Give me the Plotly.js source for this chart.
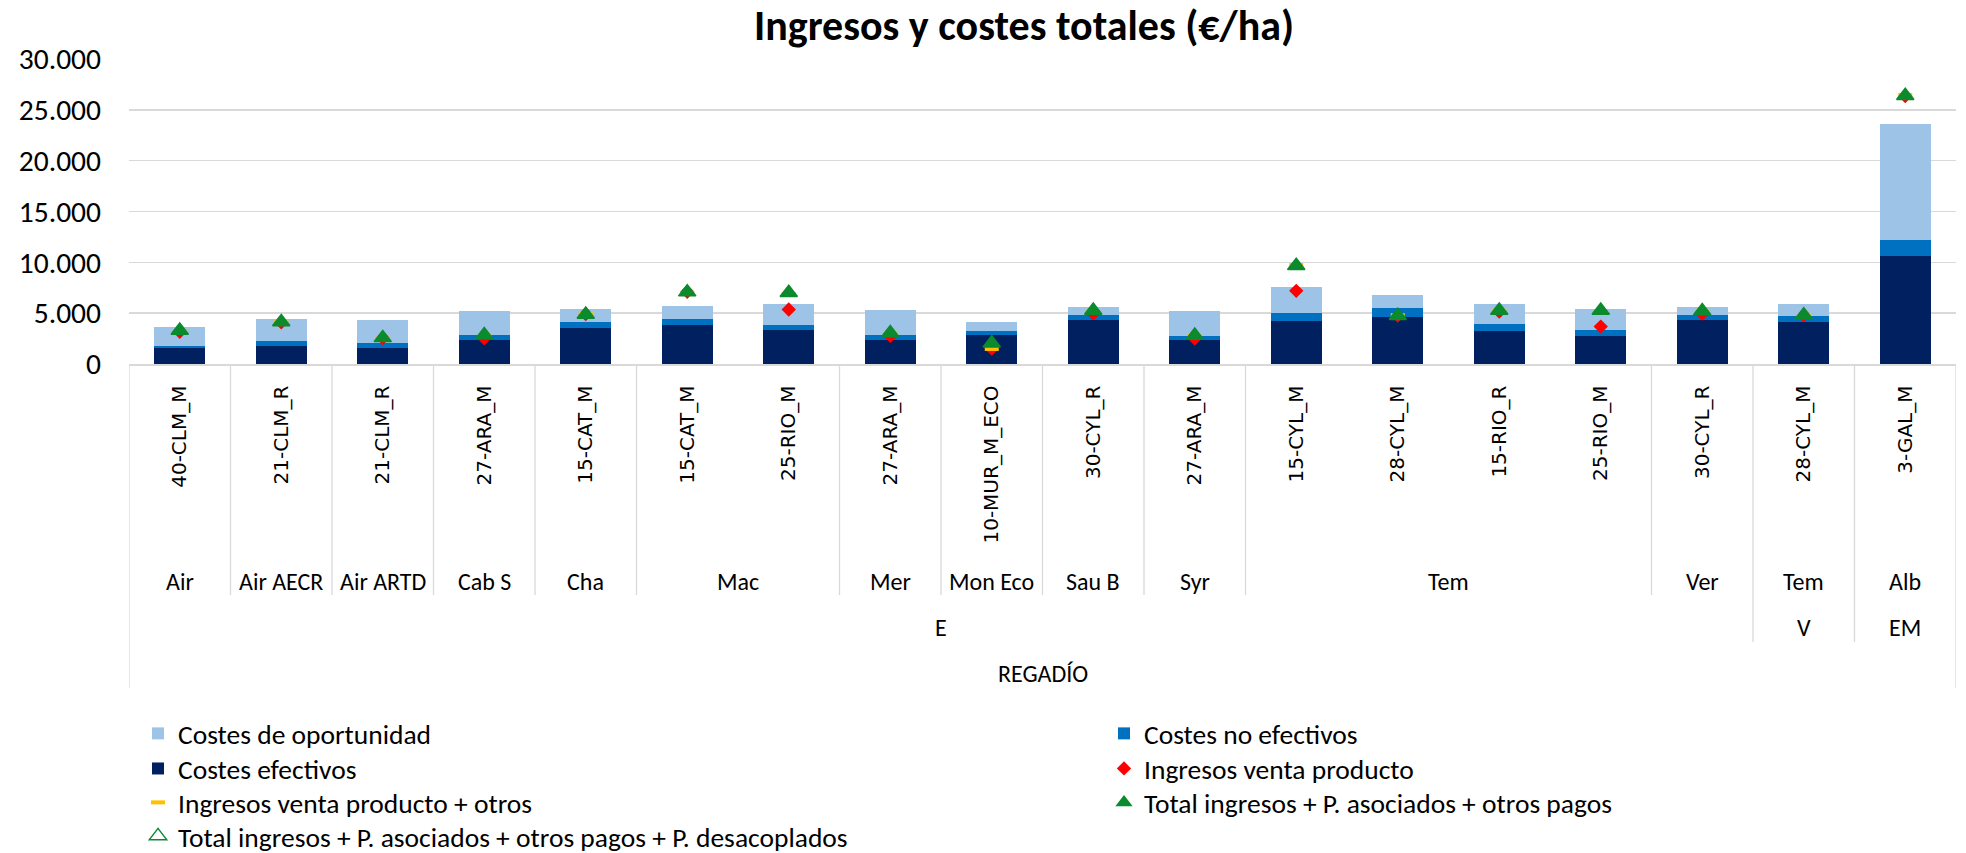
<!DOCTYPE html>
<html>
<head>
<meta charset="utf-8">
<script src="https://cdn.plot.ly/plotly-3.0.1.min.js"></script>
<style>
  html, body { margin: 0; padding: 0; background: #ffffff; }
  #chart { width: 1966px; height: 853px; }
</style>
</head>
<body>
<div id="chart"></div>
<script>
// ---------------- DATA ----------------
const codes = ['40-CLM_M','21-CLM_R','21-CLM_R','27-ARA_M','15-CAT_M','15-CAT_M','25-RIO_M','27-ARA_M','10-MUR_M_ECO','30-CYL_R','27-ARA_M','15-CYL_M','28-CYL_M','15-RIO_R','25-RIO_M','30-CYL_R','28-CYL_M','3-GAL_M'];
const groups = ['Air','Air AECR','Air ARTD','Cab S','Cha','Mac','Mac','Mer','Mon Eco','Sau B','Syr','Tem','Tem','Tem','Tem','Ver','Tem','Alb'];
const segments = ['E','E','E','E','E','E','E','E','E','E','E','E','E','E','E','E','V','EM'];
const systems = ['REGADÍO','REGADÍO','REGADÍO','REGADÍO','REGADÍO','REGADÍO','REGADÍO','REGADÍO','REGADÍO','REGADÍO','REGADÍO','REGADÍO','REGADÍO','REGADÍO','REGADÍO','REGADÍO','REGADÍO','REGADÍO'];

const costesEfectivos   = [1610, 1740, 1580, 2370, 3550, 3850, 3360, 2370, 2830, 4340, 2370, 4240, 4640, 3260, 2760, 4360, 4130, 10660];
const costesNoEfectivos = [ 150,  530,  460,  460,  560,  560,  490,  490,  390,  500,  430,  730,  820,  650,  560,  500,  560,  1510];
const costesOportunidad = [1860, 2200, 2240, 2370, 1280, 1280, 2100, 2440,  960,  750, 2400, 2630, 1280, 2040, 2070,  720, 1220, 11480];

const ingresosVenta       = [3160, 4100, 2550, 2530, 4900, 7100, 5360, 2760, 1510, 4970, 2500, 7200, 4750, 5150, 3680, 4950, 4800, 26350];
const ingresosVentaOtros  = [3220, 4140, 2500, 2760, 4930, 7000, 6900, 3060, 1480, 5200, 2800, 9740, 4800, 5260, 5130, 5220, 4790, 26450];
const totalIngresos       = [3290, 4140, 2570, 2860, 4870, 7070, 7000, 3060, 2040, 5260, 2800, 9670, 4740, 5260, 5260, 5220, 4790, 26380];
const totalDesacoplados   = [3290, 4140, 2570, 2860, 4870, 7070, 7000, 3060, 2040, 5260, 2800, 9670, 4740, 5260, 5260, 5220, 4790, 26380];

const seriesNames = {
  oport: 'Costes de oportunidad',
  noef: 'Costes no efectivos',
  ef: 'Costes efectivos',
  venta: 'Ingresos venta producto',
  otros: 'Ingresos venta producto + otros',
  total: 'Total ingresos + P. asociados + otros pagos',
  desac: 'Total ingresos + P. asociados + otros pagos + P. desacoplados'
};
const titleText = 'Ingresos y costes totales (€/ha)';

// ---------------- STYLE / LAYOUT CONSTANTS ----------------
const W = 1966, H = 853;
const PL = 129, PR = 1956, PT = 59, PB = 364;
const PH = PB - PT;
const CAL = 'Carlito, Lato, "Open Sans", sans-serif';
const GRID = '#d9d9d9';
const idx = codes.map((_, i) => i);

function pY(px) { return (PB - px) / PH; }

function runs(keys) {
  const out = [];
  let s = 0;
  for (let i = 1; i <= keys.length; i++) {
    if (i === keys.length || keys[i] !== keys[s]) { out.push({start: s, end: i - 1, key: keys[s]}); s = i; }
  }
  return out;
}

// ---------------- TRACES ----------------
// legend slots: col1 rows -> legend, legend3, legend5, legend7 ; col2 rows -> legend2, legend4, legend6
const traces = [
  {type: 'bar', x: idx, y: costesEfectivos, name: seriesNames.ef, marker: {color: '#002060'}, legend: 'legend3'},
  {type: 'bar', x: idx, y: costesNoEfectivos, name: seriesNames.noef, marker: {color: '#0070C0'}, legend: 'legend2'},
  {type: 'bar', x: idx, y: costesOportunidad, name: seriesNames.oport, marker: {color: '#9DC3E6'}, legend: 'legend'},
  {type: 'scatter', mode: 'markers', x: idx, y: ingresosVenta, name: seriesNames.venta,
    marker: {symbol: 'diamond', size: 11, color: '#FF0000'}, legend: 'legend4'},
  {type: 'scatter', mode: 'markers', x: idx, y: ingresosVentaOtros, name: seriesNames.otros,
    marker: {symbol: 'line-ew', size: 10, color: '#FFC000', line: {color: '#FFC000', width: 4}}, legend: 'legend5'},
  {type: 'scatter', mode: 'markers', x: idx, y: totalIngresos, name: seriesNames.total,
    marker: {symbol: 'triangle-up', size: 15, color: '#0B8A2E'}, legend: 'legend6'},
  {type: 'scatter', mode: 'markers', x: idx, y: totalDesacoplados, name: seriesNames.desac,
    marker: {symbol: 'triangle-up-open', size: 15, color: '#0B8A2E', line: {color: '#0B8A2E', width: 1.5}}, legend: 'legend7'}
];

// ---------------- AXIS LABELS (levels) ----------------
const annotations = [];
const groupKeys = groups.map((g, i) => segments[i] + '|' + g);
const LBL = {family: CAL, size: 24, color: '#000'};
runs(groupKeys).forEach(r => annotations.push({
  xref: 'x', yref: 'paper', x: (r.start + r.end) / 2, y: pY(581), text: groups[r.start],
  showarrow: false, xanchor: 'center', yanchor: 'middle', font: LBL
}));
runs(segments).forEach(r => annotations.push({
  xref: 'x', yref: 'paper', x: (r.start + r.end) / 2, y: pY(627), text: segments[r.start],
  showarrow: false, xanchor: 'center', yanchor: 'middle', font: LBL
}));
runs(systems).forEach(r => annotations.push({
  xref: 'x', yref: 'paper', x: (r.start + r.end) / 2, y: pY(673), text: systems[r.start],
  showarrow: false, xanchor: 'center', yanchor: 'middle', font: LBL
}));

const shapes = [];
for (let k = 0; k <= codes.length; k++) {
  let depth = null;
  if (k === 0 || k === codes.length) depth = 688;
  else if (segments[k] !== segments[k - 1]) depth = 642;
  else if (groups[k] !== groups[k - 1]) depth = 595;
  if (depth !== null) {
    shapes.push({type: 'line', xref: 'x', yref: 'paper', x0: k - 0.5, x1: k - 0.5, y0: 0, y1: pY(depth),
      line: {color: GRID, width: 1.3}});
  }
}

// legend placement (row centres, column item starts) in pixels
const rowCenters = [733.5, 768.6, 802.5, 836];
const colStarts = [138, 1104];
function legendAt(col, row) {
  return {xref: 'container', yref: 'container', x: colStarts[col] / W, y: 1 - rowCenters[row] / H,
    xanchor: 'left', yanchor: 'middle', orientation: 'v',
    font: {family: CAL, size: 27.5, color: '#000'}, bgcolor: 'rgba(0,0,0,0)'};
}

const layout = {
  width: W, height: H,
  margin: {l: PL, r: W - PR, t: PT, b: H - PB, pad: 0, autoexpand: false},
  paper_bgcolor: '#ffffff', plot_bgcolor: '#ffffff',
  separators: ',.',
  barmode: 'stack', bargap: 0.5,
  showlegend: true,
  title: {text: '<b>' + titleText + '</b>', font: {family: CAL, size: 42, color: '#000'},
    xref: 'container', yref: 'container', x: 1024 / W, y: 1 - 25 / H, xanchor: 'center', yanchor: 'middle'},
  xaxis: {type: 'linear', range: [-0.5, codes.length - 0.5], tickmode: 'array', tickvals: idx, ticktext: codes,
    tickangle: -90, tickfont: {family: '"DejaVu Sans", Verdana, sans-serif', size: 20, color: '#000'},
    showgrid: false, zeroline: false, showline: true, linecolor: GRID, linewidth: 1.5, ticks: '', ticklabelstandoff: 12,
    automargin: false, fixedrange: true},
  yaxis: {range: [0, 30000], dtick: 5000, tick0: 0, tickformat: ',d', showgrid: true, gridcolor: GRID, gridwidth: 1.4,
    zeroline: false, showline: false, ticks: '', tickfont: {family: CAL, size: 29.5, color: '#000'}, ticklabelstandoff: 27,
    automargin: false, fixedrange: true},
  legend: legendAt(0, 0),
  legend2: legendAt(1, 0),
  legend3: legendAt(0, 1),
  legend4: legendAt(1, 1),
  legend5: legendAt(0, 2),
  legend6: legendAt(1, 2),
  legend7: legendAt(0, 3),
  annotations: annotations,
  shapes: shapes
};

Plotly.newPlot('chart', traces, layout, {displayModeBar: false, staticPlot: true});
</script>
</body>
</html>
